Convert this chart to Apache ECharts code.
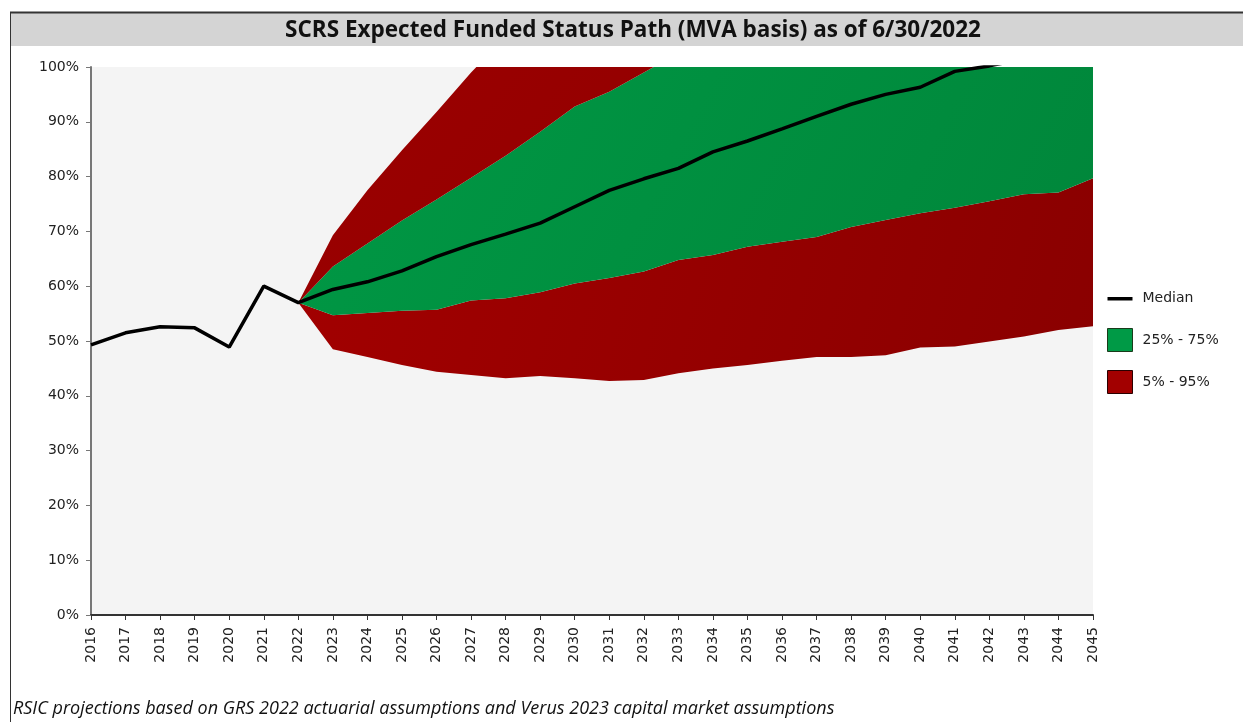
<!DOCTYPE html>
<html>
<head>
<meta charset="utf-8">
<script src="https://cdn.jsdelivr.net/npm/echarts@6/dist/echarts.min.js"></script>
<style>
  html, body { margin: 0; padding: 0; background: #fff; }
  #chart { width: 1243px; height: 722px; }
</style>
</head>
<body>
<div id="chart"></div>
<script>
// years on the x axis
var years = ['2016', '2017', '2018', '2019', '2020', '2021', '2022', '2023', '2024', '2025',
  '2026', '2027', '2028', '2029', '2030', '2031', '2032', '2033', '2034', '2035',
  '2036', '2037', '2038', '2039', '2040', '2041', '2042', '2043', '2044', '2045']

// funded status, percent (history + median projection)
var median = [49.3, 51.5, 52.6, 52.4, 48.9, 60.0, 57.0, 59.4, 60.8, 62.8,
  65.4, 67.6, 69.5, 71.5, 74.5, 77.5, 79.6, 81.5, 84.5, 86.5,
  88.7, 91.0, 93.2, 95.0, 96.3, 99.2, 100.2, 101.5, 102.8, 104.0]

// percentiles, projection only (null before 2022)
var p5 = [null, null, null, null, null, null, 57.0, 48.5, 47.1, 45.6,
  44.4, 43.8, 43.2, 43.6, 43.2, 42.7, 42.9, 44.1, 45.0, 45.6,
  46.4, 47.1, 47.1, 47.4, 48.8, 49.0, 49.9, 50.8, 52.0, 52.7]
var p25 = [null, null, null, null, null, null, 57.0, 54.7, 55.1, 55.5,
  55.7, 57.4, 57.8, 58.9, 60.5, 61.5, 62.7, 64.8, 65.7, 67.2,
  68.1, 69.0, 70.8, 72.1, 73.3, 74.3, 75.5, 76.8, 77.1, 79.7]
// upper bands run past 100% and are cut off by the axis
var p75 = [null, null, null, null, null, null, 57.0, 63.6, 67.8, 72.0,
  75.8, 79.8, 83.8, 88.2, 92.8, 95.5, 99.0, 102.5, 105.5, 108.0,
  110.5, 113.0, 115.5, 118.0, 120.0, 122.5, 124.5, 127.0, 129.0, 131.0]
var p95 = [null, null, null, null, null, null, 57.0, 69.3, 77.5, 84.8,
  91.8, 99.0, 105.5, 111.0, 117.0, 122.0, 127.0, 132.0, 137.0, 141.0,
  145.0, 149.0, 153.0, 157.0, 160.0, 163.0, 166.0, 169.0, 172.0, 175.0]

function diff(a, b) {
  return a.map(function (v, i) { return v == null ? null : +(v - b[i]).toFixed(2) })
}

var green = new echarts.graphic.LinearGradient(0, 0, 1, 1, [
  { offset: 0, color: '#009a46' }, { offset: 1, color: '#00863a' }])
var red = new echarts.graphic.LinearGradient(0, 0, 1, 1, [
  { offset: 0, color: '#a20000' }, { offset: 1, color: '#8a0000' }])

function band(name, data, color) {
  return {
    name: name,
    type: 'line',
    stack: 'band',
    data: data,
    symbol: 'none',
    lineStyle: { width: 0 },
    areaStyle: { color: color, opacity: 1 },
    itemStyle: { color: color },
    emphasis: { disabled: true },
    z: 2
  }
}

var chart = echarts.init(document.getElementById('chart'))
chart.setOption({
  animation: false,
  textStyle: { fontFamily: 'DejaVu Sans' },
  graphic: [
    { type: 'rect', shape: { x: 10, y: 13, width: 1233, height: 33 }, style: { fill: '#d4d4d4' } },
    { type: 'line', shape: { x1: 10, y1: 12.5, x2: 1243, y2: 12.5 }, style: { stroke: '#333', lineWidth: 2 } },
    { type: 'line', shape: { x1: 10.5, y1: 12, x2: 10.5, y2: 722 }, style: { stroke: '#333', lineWidth: 1 } },
    {
      type: 'text', x: 633, y: 31,
      style: {
        text: 'SCRS Expected Funded Status Path (MVA basis) as of 6/30/2022',
        fontFamily: 'Open Sans', fontWeight: 'bold', fontSize: 22.5, fill: '#111',
        align: 'center', verticalAlign: 'middle'
      }
    },
    {
      type: 'text', x: 13, y: 709,
      style: {
        text: 'RSIC projections based on GRS 2022 actuarial assumptions and Verus 2023 capital market assumptions',
        fontFamily: 'Open Sans', fontStyle: 'italic', fontSize: 18, fill: '#111',
        verticalAlign: 'middle'
      }
    }
  ],
  grid: {
    left: 91, right: 150, top: 67, bottom: 107,
    show: true, backgroundColor: '#f4f4f4', borderWidth: 0
  },
  legend: {
    orient: 'vertical',
    left: 1102, top: 282,
    itemWidth: 25, itemHeight: 23, itemGap: 18,
    textStyle: { fontSize: 14, color: '#222', padding: [0, 0, 0, 5] },
    data: [
      { name: 'Median', icon: 'path://M0,0 M0,10 L25,10 L25,13.5 L0,13.5 Z M25,23', itemStyle: { color: '#000' } },
      { name: '25% - 75%', icon: 'rect', itemStyle: { color: '#009a46', borderColor: '#1a3a1a', borderWidth: 1 } },
      { name: '5% - 95%', icon: 'rect', itemStyle: { color: '#a20000', borderColor: '#2a0000', borderWidth: 1 } }
    ]
  },
  xAxis: {
    type: 'category',
    data: years,
    boundaryGap: false,
    axisLine: { lineStyle: { color: '#333', width: 2 } },
    axisTick: { show: true, interval: 0, length: 5, lineStyle: { color: '#333' } },
    axisLabel: { interval: 0, rotate: 90, fontSize: 14, color: '#222', margin: 12 },
    splitLine: { show: false }
  },
  yAxis: {
    type: 'value',
    min: 0, max: 100, interval: 10,
    axisLine: { show: true, lineStyle: { color: '#777', width: 2 } },
    axisTick: { show: true, length: 5, lineStyle: { color: '#777' } },
    axisLabel: { formatter: '{value}%', fontSize: 14, color: '#222', margin: 12 },
    splitLine: { show: false }
  },
  series: [
    band('base', p5, 'rgba(0,0,0,0)'),
    band('5% - 95%', diff(p25, p5), red),
    band('25% - 75%', diff(p75, p25), green),
    band('5% - 95%', diff(p95, p75), red),
    {
      name: 'Median',
      type: 'line',
      data: median,
      symbol: 'none',
      lineStyle: { color: '#000', width: 3.5 },
      itemStyle: { color: '#000' },
      z: 5
    }
  ]
})
</script>
</body>
</html>
